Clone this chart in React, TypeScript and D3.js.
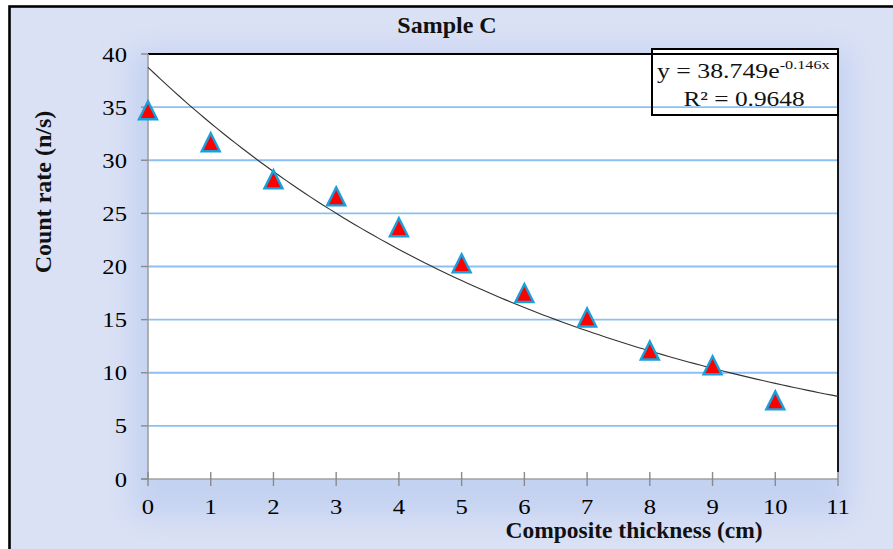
import React from 'react';
import * as d3 from 'd3';

const thickness = [0, 1, 2, 3, 4, 5, 6, 7, 8, 9, 10];
const countRate = [34.7, 31.7, 28.2, 26.6, 23.7, 20.3, 17.5, 15.2, 12.1, 10.7, 7.4];
const xTicks = [0, 1, 2, 3, 4, 5, 6, 7, 8, 9, 10, 11];
const yTicks = [0, 5, 10, 15, 20, 25, 30, 35, 40];
const fitA = 38.749;
const fitB = -0.146;
const rSquared = '0.9648';
const chartTitle = 'Sample C';
const xTitle = 'Composite thickness (cm)';
const yTitle = 'Count rate (n/s)';

const SERIF = "'Liberation Serif', 'Times New Roman', serif";

export default function App() {
  const W = 893, H = 549;
  const L = 148, R = 838, T = 54, B = 479;
  const x = d3.scaleLinear().domain([0, 11]).range([L, R]);
  const y = d3.scaleLinear().domain([0, 40]).range([B, T]);
  const fitXs = d3.range(0, 11.0001, 0.1);
  const fitLine = d3.line<number>().x(d => x(d)).y(d => y(fitA * Math.exp(fitB * d)));
  const tw = 18, th = 18;
  const tri = `M0,${-th / 2}L${tw / 2},${th / 2}L${-tw / 2},${th / 2}Z`;
  const sx = 1.12;
  const glowLayers = [
    { w: 14, c: '#dcf5fd' },
    { w: 10, c: '#c2eefc' },
    { w: 6, c: '#a6e2f9' },
  ];

  return (
    <svg width={W} height={H} style={{ position: 'absolute', left: 0, top: 0, display: 'block' }}
      fontFamily={SERIF}>
      <defs>
        <filter id="glow" x="-10%" y="-400%" width="120%" height="900%">
          <feGaussianBlur stdDeviation="1.3" />
        </filter>
        <filter id="bgblur" x="-20%" y="-20%" width="140%" height="140%">
          <feGaussianBlur stdDeviation="14" />
        </filter>
        <clipPath id="chartclip">
          <rect x={9} y={6} width={W} height={H} />
        </clipPath>
      </defs>
      <rect x={0} y={0} width={W} height={H} fill="#ffffff" />
      <g clipPath="url(#chartclip)">
        <rect x={9} y={6} width={W} height={H} fill="#dae1f5" />
        <rect x={L - 16} y={T - 4} width={R - L + 28} height={B - T + 42} fill="#c4d2f1" filter="url(#bgblur)" />
      </g>
      <rect x={9.5} y={6.5} width={W + 10} height={H + 10} fill="none" stroke="#000" strokeWidth={2.6} />

      {/* title */}
      <text x={447} y={33} textAnchor="middle" fontWeight="bold" fontSize={24} fill="#111">{chartTitle}</text>

      {/* plot area */}
      <rect x={L} y={T} width={R - L} height={B - T} fill="#ffffff" />
      <rect x={652} y={49} width={186} height={66} fill="#ffffff" />

      {/* gridlines with glow */}
      {yTicks.filter(v => v > 0).map(v => (
        <g key={'g' + v}>
          <g filter="url(#glow)">
            {glowLayers.map((g, k) => (
              <line key={k} x1={L - 6} x2={R + 6} y1={y(v)} y2={y(v)} stroke={g.c} strokeWidth={g.w} strokeLinecap="round" />
            ))}
          </g>
          <line x1={L} x2={R} y1={y(v)} y2={y(v)} stroke={v === 40 ? '#000' : '#8cc0f4'} strokeWidth={1.8} />
        </g>
      ))}

      {/* right border */}
      <line x1={R} x2={R} y1={T} y2={B - 7} stroke="#000" strokeWidth={1.8} />

      {/* axes */}
      <line x1={L} x2={L} y1={T} y2={B} stroke="#a0a0a0" strokeWidth={1.6} />
      <line x1={L - 7} x2={R} y1={B} y2={B} stroke="#a0a0a0" strokeWidth={1.6} />
      {yTicks.map(v => (
        <line key={'yt' + v} x1={L - 7} x2={L} y1={y(v)} y2={y(v)} stroke="#8a8a8a" strokeWidth={1.4} />
      ))}
      {xTicks.map(v => (
        <line key={'xt' + v} x1={x(v)} x2={x(v)} y1={B - 7} y2={B + 7} stroke="#8a8a8a" strokeWidth={1.4} />
      ))}

      {/* tick labels */}
      {yTicks.map(v => (
        <text key={'yl' + v} transform={`translate(${L - 21},${y(v) + 7.5}) scale(${sx},1)`} textAnchor="end" fontSize={22} fill="#000">{v}</text>
      ))}
      {xTicks.map(v => (
        <text key={'xl' + v} transform={`translate(${x(v)},${B + 35}) scale(${sx},1)`} textAnchor="middle" fontSize={22} fill="#000">{v}</text>
      ))}

      {/* axis titles */}
      <text x={634} y={538} textAnchor="middle" fontWeight="bold" fontSize={23.5} fill="#111">{xTitle}</text>
      <text transform="translate(51,192) rotate(-90)" textAnchor="middle" fontWeight="bold" fontSize={24} fill="#111">{yTitle}</text>

      {/* trendline */}
      <path d={fitLine(fitXs) || ''} fill="none" stroke="#333" strokeWidth={1.1} />

      {/* markers */}
      {thickness.map((t, i) => (
        <path key={'m' + i} d={tri} transform={`translate(${x(t)},${y(countRate[i])})`}
          fill="#ff0000" stroke="#1a9fdb" strokeWidth={2.4} strokeLinejoin="miter" />
      ))}

      {/* equation box */}
      <rect x={652} y={49} width={186} height={66} fill="none" stroke="#000" strokeWidth={2} />
      <text transform={`translate(657,78) scale(1.2,1)`} fontSize={21.5} fill="#111">
        y = 38.749e<tspan fontSize={13.5} dy={-9}>-0.146x</tspan>
      </text>
      <text transform={`translate(744,106) scale(1.18,1)`} textAnchor="middle" fontSize={21.5} fill="#111">
        R² = {rSquared}
      </text>
    </svg>
  );
}
